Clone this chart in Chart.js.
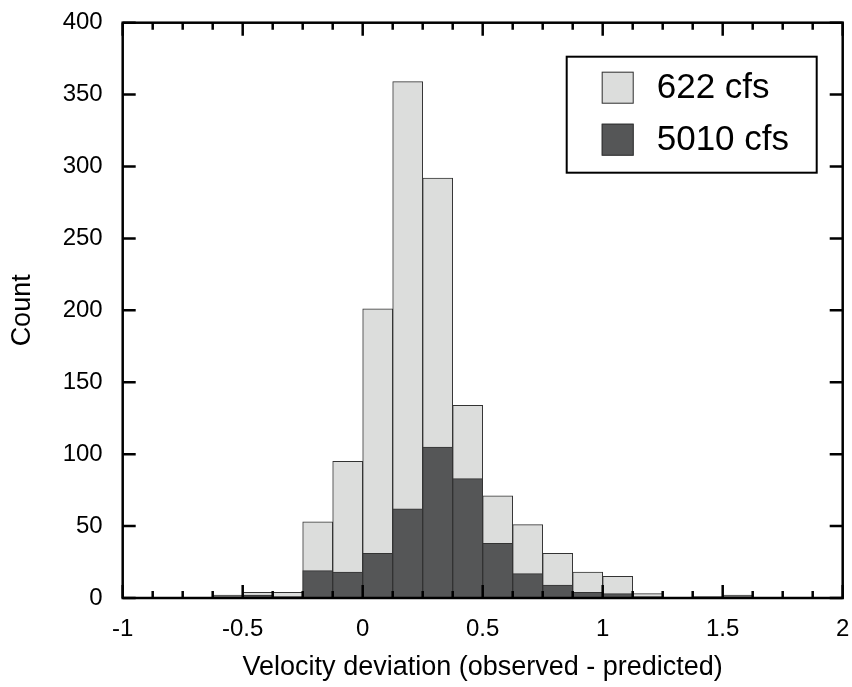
<!DOCTYPE html>
<html>
<head>
<meta charset="utf-8">
<script src="https://cdn.jsdelivr.net/npm/chart.js@4.4.1/dist/chart.umd.min.js"></script>
<style>
  html, body { margin: 0; padding: 0; background: #fff; }
  #wrap { width: 852px; height: 687px; }
</style>
</head>
<body>
<div id="wrap"><canvas id="histChart" width="852" height="687"></canvas></div>
<script>
// histogram bins (left edges), width 0.125
const binStarts = [-1, -0.875, -0.75, -0.625, -0.5, -0.375, -0.25, -0.125,
  0, 0.125, 0.25, 0.375, 0.5, 0.625, 0.75, 0.875,
  1, 1.125, 1.25, 1.375, 1.5, 1.625, 1.75, 1.875];
const binWidth = 0.125;
const counts622 = [0, 0, 0, 2, 4, 4, 53, 95, 201, 359, 292, 134, 71, 51, 31, 18, 15, 3, 0, 1, 2, 0, 0, 0];
const counts5010 = [0, 0, 0, 1, 2, 1, 19, 18, 31, 62, 105, 83, 38, 17, 9, 4, 3, 1, 0, 0, 1, 0, 0, 0];
const seriesLabels = ['622 cfs', '5010 cfs'];
const seriesColors = ['#dcdddc', '#555657'];
const xTickStep = 0.5;
const xMinorStep = 0.125;
const yTickStep = 50;

const toPoints = (arr) => arr.map((c, i) => ({ x: binStarts[i] + binWidth / 2, y: c }));

// no extra room for overflowing tick labels, the layout padding does it
function noLabelPadding(s) {
  s.paddingTop = 0; s.paddingBottom = 0; s.paddingLeft = 0; s.paddingRight = 0;
}

// frame, inward ticks and the boxed legend
const frameTicks = {
  id: 'frameTicks',
  afterDatasetsDraw(chart) {
    const { ctx, chartArea: a, scales: { x, y } } = chart;
    ctx.save();
    ctx.strokeStyle = '#000';
    ctx.lineWidth = 2.5;
    ctx.beginPath();
    for (let v = x.min; v <= x.max + 1e-9; v += xMinorStep) {
      const px = x.getPixelForValue(v);
      const major = Math.abs(v / xTickStep - Math.round(v / xTickStep)) < 1e-6;
      const len = major ? 13 : 7;
      ctx.moveTo(px, a.bottom); ctx.lineTo(px, a.bottom - len);
      ctx.moveTo(px, a.top); ctx.lineTo(px, a.top + len);
    }
    for (let v = y.min; v <= y.max; v += yTickStep) {
      const py = y.getPixelForValue(v);
      ctx.moveTo(a.left, py); ctx.lineTo(a.left + 13, py);
      ctx.moveTo(a.right, py); ctx.lineTo(a.right - 13, py);
    }
    ctx.stroke();
    ctx.strokeRect(a.left, a.top, a.right - a.left, a.bottom - a.top);

    // legend
    const bx = a.right - 276, by = a.top + 34, bw = 250, bh = 116;
    ctx.fillStyle = '#fff';
    ctx.fillRect(bx, by, bw, bh);
    ctx.lineWidth = 2;
    ctx.strokeRect(bx, by, bw, bh);
    ctx.font = '35px "Liberation Sans", Arial, sans-serif';
    ctx.textBaseline = 'middle';
    chart.data.datasets.forEach((ds, i) => {
      const sy = by + 15 + i * 52;
      ctx.fillStyle = ds.backgroundColor;
      ctx.fillRect(bx + 35, sy, 32, 32);
      ctx.lineWidth = 1;
      ctx.strokeStyle = '#333';
      ctx.strokeRect(bx + 35.5, sy + 0.5, 31, 31);
      ctx.fillStyle = '#000';
      ctx.fillText(ds.label, bx + 90, sy + 17);
    });
    ctx.restore();
  }
};

Chart.defaults.color = '#000';
Chart.defaults.font.family = '"Liberation Sans", Arial, sans-serif';

const ctx = document.getElementById('histChart');
const histChart = new Chart(ctx, {
  type: 'bar',
  data: {
    datasets: [{
      label: seriesLabels[0],
      data: toPoints(counts622),
      backgroundColor: seriesColors[0],
      order: 2
    }, {
      label: seriesLabels[1],
      data: toPoints(counts5010),
      backgroundColor: seriesColors[1],
      order: 1
    }]
  },
  options: {
    responsive: false,
    animation: false,
    layout: { padding: { top: 22.7, right: 9.3, left: 0, bottom: 0 } },
    datasets: {
      bar: {
        grouped: false,
        barPercentage: 1,
        categoryPercentage: 1,
        borderWidth: 1,
        borderColor: '#333',
        borderSkipped: false
      }
    },
    plugins: {
      legend: { display: false },
      tooltip: { enabled: false }
    },
    scales: {
      x: {
        type: 'linear',
        min: -1,
        max: 2,
        offset: false,
        grid: { display: false, drawTicks: false },
        border: { display: false },
        ticks: {
          stepSize: xTickStep, padding: 17, maxRotation: 0, font: { size: 24 },
          callback: (v) => String(v)
        },
        title: {
          display: true,
          text: 'Velocity deviation (observed - predicted)',
          font: { size: 27 },
          padding: { top: 3, bottom: 3 }
        },
        afterFit(s) { s.height = 89; noLabelPadding(s); }
      },
      y: {
        min: 0,
        max: 400,
        grid: { display: false, drawTicks: false },
        border: { display: false },
        ticks: { stepSize: yTickStep, padding: 20, font: { size: 24 } },
        title: {
          display: true,
          text: 'Count',
          font: { size: 27 },
          padding: { top: 6, bottom: 6 }
        },
        afterFit(s) { s.width = 122.7; noLabelPadding(s); }
      }
    }
  },
  plugins: [frameTicks]
});
</script>
</body>
</html>
